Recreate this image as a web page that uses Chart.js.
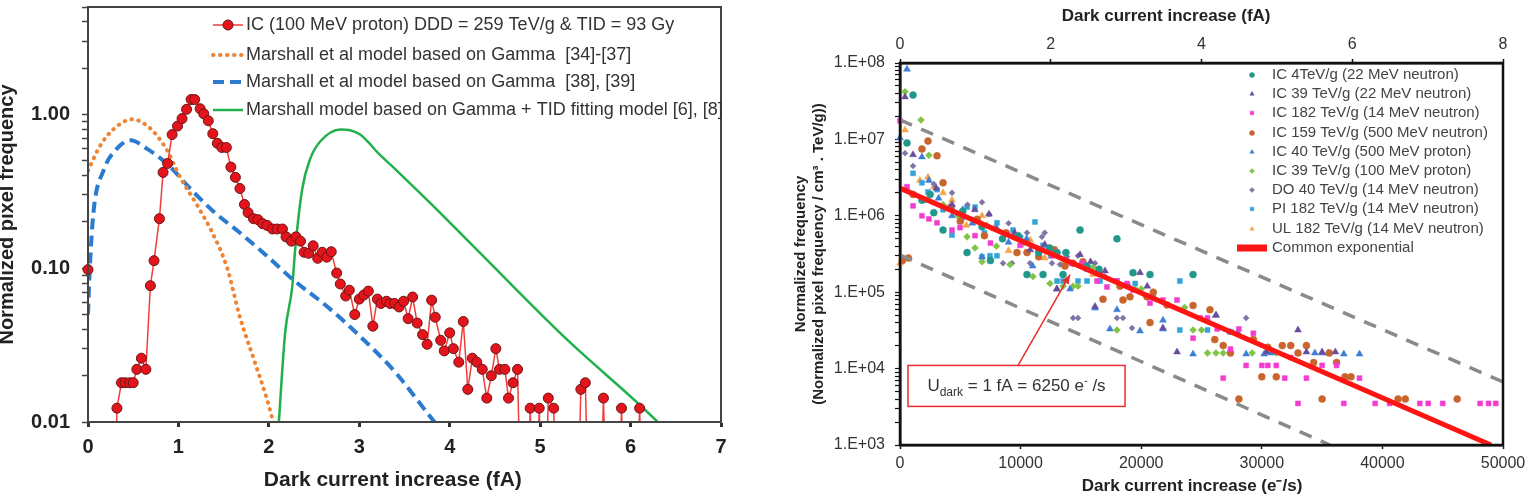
<!DOCTYPE html>
<html>
<head>
<meta charset="utf-8">
<script src="https://cdn.jsdelivr.net/npm/chart.js@4.4.1/dist/chart.umd.min.js"></script>
<style>
  body { margin: 0; background: #fff; width: 1528px; height: 498px; overflow: hidden; position: relative; }
  #left { position: absolute; left: 0; top: 0; }
  #right { position: absolute; left: 770px; top: 0; }
</style>
</head>
<body>
<canvas id="left" width="760" height="498"></canvas>
<canvas id="right" width="758" height="498"></canvas>
<script>
(function() {
    'use strict';

    // ---- Left panel: normalized pixel frequency vs dark current (fA) ----
    // null = gap, 0.001 = below the axis (the line drops out of the plot)
    const icX = [0, 0.05, 0.29, 0.32, 0.37, 0.41, 0.46, 0.50, 0.54, 0.59, 0.64, 0.69, 0.73, 0.79, 0.83, 0.88, 0.93, 0.99,
        1.04, 1.09, 1.14, 1.18, 1.24, 1.28, 1.33, 1.38, 1.43, 1.48, 1.53, 1.58, 1.63, 1.68, 1.73, 1.77, 1.83, 1.88, 1.93, 1.98,
        2.04, 2.09, 2.15, 2.19, 2.25, 2.30, 2.35, 2.39, 2.44, 2.49, 2.54, 2.59, 2.64, 2.69, 2.75, 2.79, 2.85, 2.89, 2.95,
        3.00, 3.05, 3.10, 3.15, 3.20, 3.24, 3.30, 3.34, 3.39, 3.44, 3.49, 3.54, 3.59, 3.64, 3.70, 3.75, 3.80, 3.84, 3.90, 3.94,
        4.00, 4.04, 4.10, 4.15, 4.20, 4.25, 4.30, 4.36, 4.41, 4.46, 4.51, 4.55, 4.61, 4.65, 4.70, 4.75, 4.80, 4.85, 4.89, 4.94,
        4.99, 5.04, 5.09, 5.15, 5.20, 5.40, 5.45, 5.50, 5.55, 5.65, 5.70, 5.75, 5.85, 5.90, 5.95, 6.05, 6.10, 6.15];
    const icY = [0.098, null, 0.001, 0.0123, 0.018, 0.018, 0.018, 0.018, 0.022, 0.026, 0.022, 0.077, 0.112, 0.21, 0.42, 0.48, 0.74, 0.84,
        0.94, 1.08, 1.25, 1.25, 1.09, 1.01, 0.91, 0.75, 0.65, 0.61, 0.61, 0.455, 0.39, 0.33, 0.26, 0.23, 0.21, 0.207, 0.195, 0.19,
        0.18, 0.18, 0.18, 0.16, 0.15, 0.16, 0.15, 0.127, 0.125, 0.14, 0.116, 0.127, 0.118, 0.128, 0.093, 0.079, 0.066, 0.072, 0.05,
        0.063, 0.067, 0.071, 0.042, 0.063, 0.059, 0.061, 0.059, 0.059, 0.056, 0.061, 0.047, 0.065, 0.044, 0.037, 0.032, 0.062, 0.048, 0.034, 0.029,
        0.038, 0.030, 0.0245, 0.045, 0.0163, 0.026, 0.0245, 0.022, 0.0143, 0.020, 0.030, 0.022, 0.022, 0.0143, 0.018, 0.022, 0.001, 0.001, 0.0123, 0.001,
        0.0123, 0.001, 0.0143, 0.0123, 0.001, 0.001, 0.0163, 0.018, 0.001, 0.001, 0.0143, 0.001, 0.001, 0.0123, 0.001, 0.001, 0.0123, 0.001];

    const gamma1X = [0, 0.13, 0.28, 0.49, 0.69, 0.87, 1.02, 1.21, 1.38, 1.54, 1.68, 1.83, 1.98, 2.05, 2.10];
    const gamma1Y = [0.43, 0.62, 0.80, 0.93, 0.81, 0.59, 0.39, 0.255, 0.168, 0.10, 0.048, 0.026, 0.014, 0.010, 0.008];

    const gamma2X = [0, 0.02, 0.06, 0.17, 0.32, 0.47, 0.65, 0.87, 1.13, 1.38, 1.68, 1.98, 2.27, 2.65, 3.01, 3.40, 3.82, 3.90];
    const gamma2Y = [0.05, 0.10, 0.23, 0.43, 0.60, 0.68, 0.60, 0.48, 0.33, 0.236, 0.17, 0.12, 0.084, 0.056, 0.036, 0.021, 0.0102, 0.009];

    const tidX = [2.10, 2.18, 2.26, 2.29, 2.37, 2.46, 2.57, 2.79, 2.90, 3.01, 3.10, 3.21, 3.40, 3.80, 4.31, 5.26, 6.30, 6.35];
    const tidY = [0.008, 0.038, 0.077, 0.13, 0.33, 0.52, 0.67, 0.80, 0.79, 0.74, 0.66, 0.56, 0.44, 0.26, 0.13, 0.036, 0.010, 0.0093];

    const leftXTicks = [0, 1, 2, 3, 4, 5, 6, 7];
    const leftYTicks = [0.01, 0.02, 0.03, 0.04, 0.05, 0.06, 0.07, 0.08, 0.09,
        0.1, 0.2, 0.3, 0.4, 0.5, 0.6, 0.7, 0.8, 0.9, 1, 2, 3, 4, 5];
    const leftYLabels = { 0.01: '0.01', 0.1: '0.10', 1: '1.00' };

    // ---- Right panel: scatter of normalized frequency vs dark current (e-/s) ----
    const ic4Neutron22 = [[1080, 3.8e7], [580, 9.0e6], [3570, 6.5e5], [5560, 3.3e5], [13020, 3.3e5], [13760, 3.3e5], [14930, 6.5e5],
        [17990, 5.0e5], [10530, 1.7e5], [11860, 1.7e5], [13520, 1.7e5], [19320, 1.8e5], [20730, 1.7e5], [24300, 1.7e5],
        [1820, 1.6e6], [2800, 1.1e6], [6800, 7.2e5], [8500, 5.0e5], [11500, 3.3e5], [16500, 2.0e5], [7500, 2.6e5],
        [2500, 1.9e6], [5200, 1.15e6], [9800, 5.5e5], [12400, 3.8e5], [15500, 2.2e5]];
    const ic39Neutron22 = [[415, 3.6e7], [1080, 6.3e6], [4310, 1.4e6], [7380, 1.05e6], [10800, 3.6e5], [14930, 3.1e5], [15800, 2.5e5],
        [19900, 1.8e5], [13000, 1.1e5], [16170, 6.5e4], [22970, 1.65e4], [26200, 5.0e4], [30400, 1.65e4], [33000, 3.2e4],
        [33700, 1.65e4], [35000, 1.65e4], [36100, 1.65e4], [21800, 3.4e4],
        [3000, 2.3e6], [6200, 1.2e6], [9500, 6.0e5], [12000, 4.2e5], [17000, 1.9e5], [20500, 1.2e5]];
    const ic182Neutron14 = [[0, 1.75e7], [580, 2.4e6], [1080, 1.35e6], [1820, 1.0e6], [2400, 9.1e5], [3070, 8.1e5], [4310, 6.5e5],
        [4975, 7.0e5], [6220, 5.5e5], [7500, 4.4e5], [9950, 4.1e5], [11500, 3.4e5], [12600, 3.0e5], [14200, 2.4e5], [15170, 2.4e5],
        [16340, 1.4e5], [17160, 1.17e5], [17990, 1.4e5], [18820, 1.3e5], [19320, 1.07e5], [20730, 7.2e4], [21810, 7.9e4], [22970, 7.9e4],
        [24300, 2.5e4], [24900, 4.6e4], [25500, 4.6e4], [26300, 3.3e4], [26800, 7.5e3], [27400, 1.8e4], [28100, 3.3e4], [28700, 1.1e4],
        [29300, 2.9e4], [30000, 1.1e4], [30500, 1.1e4], [31200, 1.1e4], [31900, 7.5e3], [32400, 1.4e4], [33000, 3.5e3], [33700, 7.5e3],
        [35000, 1.1e4], [36200, 1.1e4], [36800, 3.5e3], [38100, 7.5e3], [39400, 3.5e3], [40600, 3.5e3], [43100, 3.5e3], [43800, 3.5e3],
        [45000, 3.5e3], [48100, 3.5e3], [48800, 3.5e3], [49400, 3.5e3]];
    const ic159Neutron500 = [[2320, 9.5e6], [1820, 7.5e6], [3070, 6.1e6], [3570, 2.7e6], [1080, 1.9e6], [200, 2.6e5], [700, 2.8e5],
        [9700, 3.3e5], [10530, 3.3e5], [13680, 2.2e5], [14350, 2.4e5], [15170, 2.5e5], [16830, 8.1e4], [18240, 1.2e5], [18490, 7.9e4],
        [19070, 8.7e4], [20480, 8.7e4], [20730, 4.0e4], [22140, 6.8e4], [24300, 6.7e4], [25700, 5.9e4], [26100, 2.4e4], [26800, 2.0e4],
        [27400, 1.6e4], [28100, 4.0e3], [29300, 2.4e4], [30000, 7.8e3], [30500, 1.9e4], [31200, 7.8e3], [31700, 2.0e4], [32400, 2.0e4],
        [33000, 1.6e4], [33700, 2.0e4], [34300, 1.2e4], [35000, 4.0e3], [35600, 1.6e4], [36200, 1.2e4], [36900, 7.8e3], [37400, 7.8e3],
        [41300, 4.0e3], [41900, 4.0e3], [46200, 4.0e3], [5000, 8.5e5], [7000, 5.5e5], [11500, 2.9e5],
        [4200, 1.3e6], [6400, 9.0e5], [8800, 6.0e5], [12800, 3.6e5], [16500, 1.8e5], [21000, 1.0e5]];
    const ic40Proton500 = [[580, 8.3e7], [0, 1.05e7], [1820, 5.9e6], [2400, 2.9e6], [4310, 1.0e6], [6000, 8.0e5], [9000, 4.5e5],
        [6800, 2.9e5], [11000, 2.2e5], [13020, 1.1e5], [14100, 1.1e5], [16170, 6.2e4], [17990, 5.9e4], [17410, 3.3e4], [19900, 3.1e4],
        [21810, 4.3e4], [21810, 3.3e4], [24300, 1.55e4], [26200, 5.0e4], [27400, 3.0e4], [28000, 3.0e4], [28700, 1.55e4], [30200, 1.55e4],
        [30800, 1.6e4], [34400, 1.6e4], [35000, 1.6e4], [35500, 1.6e4], [36800, 1.55e4], [38100, 1.55e4],
        [3200, 1.7e6], [5200, 1.2e6], [8000, 7.0e5], [10500, 5.0e5], [15000, 2.3e5], [19000, 1.2e5]];
    const ic39Proton100 = [[415, 4.2e7], [1740, 1.8e7], [2400, 6.2e6], [3570, 1.4e6], [5560, 5.3e5], [6220, 3.8e5], [6800, 2.5e5],
        [9120, 2.3e5], [11030, 1.6e5], [12440, 1.3e5], [13520, 1.2e5], [14350, 1.2e5], [14760, 1.2e5], [17990, 3.2e4], [19500, 1.1e5],
        [23600, 6.3e4], [24300, 3.2e4], [25000, 3.2e4], [25500, 1.6e4], [26200, 1.6e4], [26800, 1.6e4], [29200, 1.6e4], [31200, 1.6e4],
        [8000, 4.0e5], [4800, 1.0e6], [7200, 7.5e5], [10200, 4.3e5], [16000, 2.1e5], [20000, 1.1e5]];
    const do40Neutron14 = [[415, 6.6e6], [1080, 4.5e6], [4310, 2.0e6], [6800, 1.5e6], [7380, 1.05e6], [10530, 6.0e5], [11770, 5.3e5],
        [8540, 2.4e5], [9290, 2.4e5], [10780, 2.4e5], [12600, 2.4e5], [13270, 2.3e5], [13850, 2.9e5], [14760, 3.0e5], [16170, 2.4e5],
        [14350, 4.6e4], [14760, 4.6e4], [17990, 4.6e4], [18490, 4.6e4], [19240, 3.4e4], [28700, 4.6e4],
        [2800, 2.6e6], [5600, 1.4e6], [9000, 8.0e5], [12000, 6.0e5], [17000, 1.6e5]];
    const pi182Neutron14 = [[1080, 3.6e6], [1820, 2.7e6], [2320, 2.05e6], [3070, 2.2e6], [3570, 1.2e6], [4310, 1.3e6], [5560, 1.3e6],
        [6220, 1.3e6], [5140, 9.4e5], [8040, 8.1e5], [9370, 6.5e5], [11190, 8.3e5], [11860, 4.1e5], [4310, 5.6e5], [6800, 2.9e5],
        [7460, 3.0e5], [8040, 3.0e5], [13020, 1.4e5], [13520, 1.4e5], [14760, 1.4e5], [15510, 1.4e5], [16580, 1.4e5], [17990, 1.4e5],
        [23200, 1.4e5], [23200, 3.2e4], [25500, 3.2e4], [27500, 3.0e4],
        [2000, 1.6e6], [7000, 6.0e5], [10000, 5.2e5], [12500, 3.0e5], [15500, 2.0e5], [19500, 1.3e5], [21000, 9.0e4]];
    const ul182Neutron14 = [[415, 1.33e7], [1650, 2.9e6], [2320, 3.2e6], [3570, 2.0e6], [4310, 1.6e6], [5500, 7.5e5], [9000, 3.5e5],
        [12000, 2.8e5], [13500, 2.4e5], [0, 2.4e5], [6800, 1.0e6], [7800, 6.8e5], [10800, 4.8e5], [16000, 1.7e5], [2800, 2.4e6]];

    const commonExp = [[0, 2.3e6], [49000, 1.0e3]];
    const upperBound = [[0, 1.8e7], [50000, 6.7e3]];
    const lowerBound = [[0, 3.07e5], [35650, 1.0e3]];

    const rightXTicks = [0, 10000, 20000, 30000, 40000, 50000];
    const rightX2Ticks = [0, 2, 4, 6, 8];
    const rightYTicks = [];
    for (let e = 3; e < 8; e++) {
        for (let m = 1; m < 10; m++) rightYTicks.push(m * Math.pow(10, e));
    }
    rightYTicks.push(1e8);

    // U_dark note: box corners and arrow, in data units
    const noteBox = [660, 18660, 1.1e4, 3.2e3];
    const noteArrow = [[9790, 1.1e4], [14100, 1.7e5]];

    // ---- helpers ----
    const FONT = "'Liberation Sans', Arial, sans-serif";
    Chart.defaults.font.family = FONT;
    Chart.defaults.color = '#222';

    const zip = (xs, ys) => xs.map((x, i) => ({ x: x, y: ys[i] }));
    const pairs = arr => arr.map(p => ({ x: p[0], y: p[1] }));
    const fixedTicks = list => function(scale) { scale.ticks = list.map(v => ({ value: v })); };
    const noPad = size => function(scale) {
        if (size.width) scale.width = size.width;
        if (size.height) scale.height = size.height;
        scale.paddingTop = 0; scale.paddingBottom = 0;
        scale.paddingLeft = 0; scale.paddingRight = 0;
    };
    // trailing spaces shift a centred axis title to the left
    const shiftLeft = (text, n) => text + ' '.repeat(n);

    function frame(color, width) {
        return {
            id: 'frame',
            afterDraw(chart) {
                const { ctx, chartArea: a } = chart;
                ctx.save();
                ctx.strokeStyle = color;
                ctx.lineWidth = width;
                ctx.strokeRect(a.left, a.top, a.right - a.left, a.bottom - a.top);
                ctx.restore();
            }
        };
    }

    function sampleLegend(cfg) {
        return {
            id: 'sampleLegend',
            afterDraw(chart) {
                const ctx = chart.ctx;
                ctx.save();
                ctx.font = cfg.font;
                ctx.fillStyle = cfg.color;
                ctx.textBaseline = 'middle';
                chart.data.datasets.forEach((ds, i) => {
                    const y = cfg.ys[i];
                    if (y === undefined) return;
                    if (ds.showLine !== false) {
                        ctx.save();
                        ctx.strokeStyle = ds.borderColor;
                        ctx.lineWidth = ds.legendWidth || ds.borderWidth;
                        ctx.lineCap = ds.borderCapStyle || 'butt';
                        ctx.setLineDash(ds.borderDash || []);
                        ctx.beginPath();
                        ctx.moveTo(cfg.x0, y);
                        ctx.lineTo(cfg.x1, y);
                        ctx.stroke();
                        ctx.restore();
                    }
                    if (ds.pointRadius > 0) {
                        ctx.save();
                        ctx.fillStyle = ds.pointBackgroundColor || ds.backgroundColor;
                        ctx.strokeStyle = ds.pointBorderColor || ds.borderColor;
                        ctx.lineWidth = ds.pointBorderWidth || 1;
                        Chart.helpers.drawPoint(ctx, {
                            pointStyle: ds.pointStyle || 'circle',
                            radius: cfg.radius || ds.pointRadius,
                            rotation: 0,
                            borderWidth: ds.pointBorderWidth || 1
                        }, (cfg.x0 + cfg.x1) / 2, y);
                        ctx.restore();
                    }
                    ctx.fillText(ds.label, cfg.tx, y);
                });
                ctx.restore();
            }
        };
    }

    const udarkNote = {
        id: 'udarkNote',
        afterDatasetsDraw(chart) {
            const { ctx, scales } = chart;
            const x = scales.x, y = scales.y;
            const l = x.getPixelForValue(noteBox[0]), r = x.getPixelForValue(noteBox[1]);
            const t = y.getPixelForValue(noteBox[2]), b = y.getPixelForValue(noteBox[3]);
            ctx.save();
            ctx.fillStyle = '#fff';
            ctx.fillRect(l, t, r - l, b - t);
            ctx.strokeStyle = '#ee2b2b';
            ctx.lineWidth = 1.5;
            ctx.strokeRect(l, t, r - l, b - t);

            // arrow
            const ax = x.getPixelForValue(noteArrow[0][0]), ay = y.getPixelForValue(noteArrow[0][1]);
            const bx = x.getPixelForValue(noteArrow[1][0]), by = y.getPixelForValue(noteArrow[1][1]);
            ctx.beginPath();
            ctx.moveTo(ax, ay);
            ctx.lineTo(bx, by);
            ctx.stroke();
            const ang = Math.atan2(by - ay, bx - ax);
            ctx.fillStyle = '#ee2b2b';
            ctx.beginPath();
            ctx.moveTo(bx, by);
            ctx.lineTo(bx - 10 * Math.cos(ang - 0.4), by - 10 * Math.sin(ang - 0.4));
            ctx.lineTo(bx - 10 * Math.cos(ang + 0.4), by - 10 * Math.sin(ang + 0.4));
            ctx.closePath();
            ctx.fill();

            // label with sub/superscript
            const parts = [
                { t: 'U', f: '17px ' + FONT, dy: 0 },
                { t: 'dark', f: '12px ' + FONT, dy: 5 },
                { t: ' = 1 fA = 6250 e', f: '17px ' + FONT, dy: 0 },
                { t: '-', f: '11px ' + FONT, dy: -7 },
                { t: ' /s', f: '17px ' + FONT, dy: 0 }
            ];
            let total = 0;
            parts.forEach(p => { ctx.font = p.f; p.w = ctx.measureText(p.t).width; total += p.w; });
            let cx = (l + r) / 2 - total / 2;
            const base = (t + b) / 2 + 5;
            ctx.fillStyle = '#333';
            ctx.textBaseline = 'alphabetic';
            parts.forEach(p => {
                ctx.font = p.f;
                ctx.fillText(p.t, cx, base + p.dy);
                cx += p.w;
            });
            ctx.restore();
        }
    };

    // ---- Left chart ----
    new Chart(document.getElementById('left'), {
        type: 'line',
        data: {
            datasets: [{
                label: 'IC (100 MeV proton) DDD = 259 TeV/g & TID = 93 Gy',
                data: zip(icX, icY),
                borderColor: '#f23c3c',
                borderWidth: 1.5,
                pointRadius: 5,
                pointBackgroundColor: '#e3141c',
                pointBorderColor: '#6e1414',
                pointBorderWidth: 1,
                spanGaps: false,
                clip: { left: 7, top: 0, right: 0, bottom: 0 }
            }, {
                label: 'Marshall et al model based on Gamma  [34]-[37]',
                data: zip(gamma1X, gamma1Y),
                borderColor: '#ee8535',
                borderWidth: 4,
                borderDash: [0.5, 6.5],
                borderCapStyle: 'round',
                pointRadius: 0,
                cubicInterpolationMode: 'monotone'
            }, {
                label: 'Marshall et al model based on Gamma  [38], [39]',
                data: zip(gamma2X, gamma2Y),
                borderColor: '#2a7bcf',
                borderWidth: 4,
                borderDash: [11, 6],
                pointRadius: 0,
                cubicInterpolationMode: 'monotone'
            }, {
                label: 'Marshall model based on Gamma + TID fitting model [6], [8]',
                data: zip(tidX, tidY),
                borderColor: '#22b04c',
                borderWidth: 2.5,
                pointRadius: 0,
                cubicInterpolationMode: 'monotone'
            }]
        },
        options: {
            responsive: false,
            animation: false,
            events: [],
            layout: { padding: { left: 0, right: 39, top: 7, bottom: 0 } },
            plugins: { legend: { display: false }, tooltip: { enabled: false } },
            scales: {
                x: {
                    type: 'linear', min: 0, max: 7,
                    afterBuildTicks: fixedTicks(leftXTicks),
                    afterFit: noPad({ height: 76 }),
                    border: { color: '#444', width: 2 },
                    grid: { drawOnChartArea: false, tickLength: 5, tickWidth: 3, tickColor: '#333' },
                    ticks: { autoSkip: false, maxRotation: 0, padding: 8, color: '#222',
                        font: { size: 20, weight: 'bold' } },
                    title: { display: true, text: shiftLeft('Dark current increase (fA)', 4), color: '#222',
                        font: { size: 21, weight: 'bold' }, padding: { top: 0, bottom: 5 } }
                },
                y: {
                    type: 'logarithmic', min: 0.01, max: 5,
                    afterBuildTicks: fixedTicks(leftYTicks),
                    afterFit: noPad({ width: 88 }),
                    border: { color: '#444', width: 2 },
                    grid: { drawOnChartArea: false, tickLength: 6, tickWidth: 1.5, tickColor: '#444' },
                    ticks: { autoSkip: false, padding: 12, color: '#222', font: { size: 20, weight: 'bold' },
                        callback: v => leftYLabels[v] || '' },
                    title: { display: true, text: 'Normalized pixel frequency', color: '#222',
                        font: { size: 20, weight: 'bold' }, padding: { top: -5, bottom: 0 } }
                }
            }
        },
        plugins: [frame('#444', 2), sampleLegend({
            x0: 213, x1: 243, tx: 246, ys: [25, 55, 82, 110],
            font: '18px ' + FONT, color: '#333', radius: 5
        })]
    });

    // ---- Right chart ----
    function scatterSet(label, pts, color, style, radius) {
        return {
            label: label,
            data: pairs(pts),
            showLine: false,
            pointStyle: style,
            pointRadius: radius,
            backgroundColor: color,
            borderColor: color,
            pointBackgroundColor: color,
            pointBorderColor: color,
            pointBorderWidth: 0.5,
            clip: { left: 5, top: 5, right: 0, bottom: 0 },
            order: 2
        };
    }

    new Chart(document.getElementById('right'), {
        type: 'scatter',
        data: {
            datasets: [
                scatterSet('IC 4TeV/g (22 MeV neutron)', ic4Neutron22, '#22978b', 'circle', 3.5),
                scatterSet('IC 39 TeV/g (22 MeV neutron)', ic39Neutron22, '#6a4c9c', 'triangle', 4),
                scatterSet('IC 182 TeV/g (14 MeV neutron)', ic182Neutron14, '#f23ccf', 'rect', 3.5),
                scatterSet('IC 159 TeV/g (500 MeV neutron)', ic159Neutron500, '#c8642c', 'circle', 3.5),
                scatterSet('IC 40 TeV/g (500 MeV proton)', ic40Proton500, '#3d7fd6', 'triangle', 4),
                scatterSet('IC 39 TeV/g (100 MeV proton)', ic39Proton100, '#80c447', 'rectRot', 3.5),
                scatterSet('DO 40 TeV/g (14 MeV neutron)', do40Neutron14, '#7f74a8', 'rectRot', 3),
                scatterSet('PI 182 TeV/g (14 MeV neutron)', pi182Neutron14, '#33a3d9', 'rect', 3.5),
                scatterSet('UL 182 TeV/g (14 MeV neutron)', ul182Neutron14, '#f6a444', 'triangle', 4),
                {
                    label: 'Common exponential',
                    data: pairs(commonExp),
                    showLine: true,
                    borderColor: '#ff1414',
                    borderWidth: 5,
                    legendWidth: 7,
                    pointRadius: 0,
                    order: 0
                }, {
                    label: '',
                    data: pairs(upperBound),
                    showLine: true,
                    borderColor: '#8a8a8a',
                    borderWidth: 3.5,
                    borderDash: [13, 10],
                    pointRadius: 0,
                    order: 1
                }, {
                    label: '',
                    data: pairs(lowerBound),
                    showLine: true,
                    borderColor: '#8a8a8a',
                    borderWidth: 3.5,
                    borderDash: [13, 10],
                    pointRadius: 0,
                    order: 1
                }
            ]
        },
        options: {
            responsive: false,
            animation: false,
            events: [],
            layout: { padding: { left: 0, right: 25, top: 0, bottom: 0 } },
            plugins: { legend: { display: false }, tooltip: { enabled: false } },
            scales: {
                x: {
                    type: 'linear', position: 'bottom', min: 0, max: 50000,
                    afterBuildTicks: fixedTicks(rightXTicks),
                    afterFit: noPad({ height: 53 }),
                    border: { color: '#111', width: 2.5 },
                    grid: { drawOnChartArea: false, tickLength: 4, tickWidth: 1.5, tickColor: '#111' },
                    ticks: { autoSkip: false, maxRotation: 0, padding: 5, color: '#333', font: { size: 16 },
                        callback: v => String(v) },
                    title: { display: true, text: shiftLeft('Dark current increase (e\u207B/s)', 4), color: '#222',
                        font: { size: 17, weight: 'bold' }, padding: { top: 0, bottom: 1 } }
                },
                x2: {
                    type: 'linear', position: 'top', min: 0, max: 8,
                    afterBuildTicks: fixedTicks(rightX2Ticks),
                    afterFit: noPad({ height: 63 }),
                    border: { color: '#111', width: 2.5 },
                    grid: { drawOnChartArea: false, tickLength: 4, tickWidth: 1.5, tickColor: '#111' },
                    ticks: { autoSkip: false, maxRotation: 0, padding: 5, color: '#333', font: { size: 16 } },
                    title: { display: true, text: shiftLeft('Dark current increase (fA)', 15), color: '#222',
                        font: { size: 17, weight: 'bold' }, padding: { top: 6, bottom: 0 } }
                },
                y: {
                    type: 'logarithmic', min: 1e3, max: 1e8,
                    afterBuildTicks: fixedTicks(rightYTicks),
                    afterFit: noPad({ width: 130 }),
                    border: { color: '#111', width: 2.5 },
                    grid: { drawOnChartArea: false, tickLength: 5, tickWidth: 1.2, tickColor: '#111' },
                    ticks: { autoSkip: false, padding: 10, color: '#333', font: { size: 16 },
                        callback: v => {
                            const e = Math.log10(v);
                            return Math.abs(e - Math.round(e)) < 1e-9 ? '1.E+0' + Math.round(e) : '';
                        } },
                    title: { display: true,
                        text: ['Normalized frequency', '(Normalized pixel frequency / cm\u00B3 . TeV/g))'],
                        color: '#222', font: { size: 15, weight: 'bold' }, padding: { top: 22, bottom: 0 } }
                }
            }
        },
        plugins: [frame('#111', 2.5), udarkNote, sampleLegend({
            x0: 467, x1: 497, tx: 502,
            ys: [75, 94, 113, 133, 152, 171, 190, 209, 229, 248],
            font: '15px ' + FONT, color: '#444', radius: 2.5
        })]
    });
})();
</script>
</body>
</html>
